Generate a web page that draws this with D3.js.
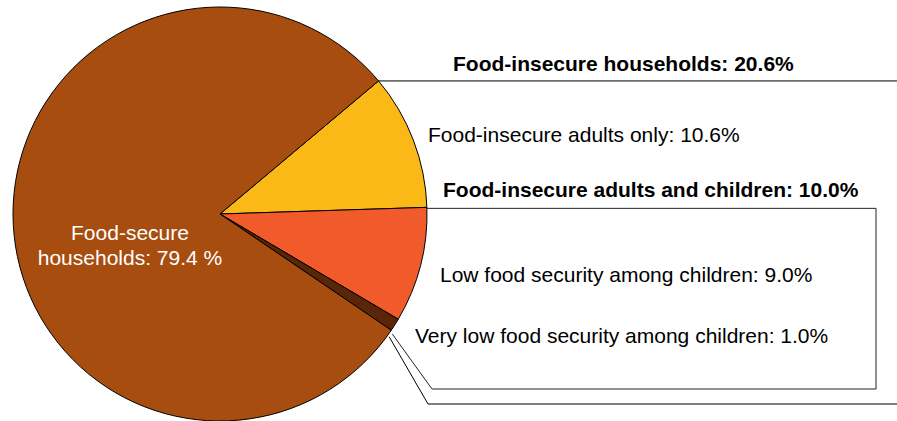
<!DOCTYPE html>
<html>
<head>
<meta charset="utf-8">
<script src="https://cdn.jsdelivr.net/npm/d3@7/dist/d3.min.js"></script>
<style>
  html, body { margin: 0; padding: 0; background: #fff; }
  svg { display: block; font-family: "Liberation Sans", Arial, Helvetica, sans-serif; }
</style>
</head>
<body>
<svg id="chart" width="897" height="421"></svg>
<script>
// Household food security shares (percent)
const categories = [
  "Food-insecure adults only",
  "Low food security among children",
  "Very low food security among children",
  "Food-secure households"
];
const values = [10.6, 9.0, 1.0, 79.4];
const sliceColors = ["#FBB917", "#F15A2B", "#5A2607", "#A84D10"];

const insecureTotal = 20.6;
const childrenTotal = 10.0;

const svg = d3.select("#chart");
const cx = 220, cy = 214, r = 207;
const W = 897;

const deg = Math.PI / 180;
const startA = 50 * deg;

const pie = d3.pie().sort(null).value(d => d.value)
  .startAngle(startA).endAngle(startA + 2 * Math.PI);
const data = categories.map((c, i) => ({ name: c, value: values[i], color: sliceColors[i] }));
const arcs = pie(data);
const arc = d3.arc().innerRadius(0).outerRadius(r);

const g = svg.append("g").attr("transform", `translate(${cx},${cy})`);
g.selectAll("path").data(arcs).join("path")
  .attr("d", arc)
  .attr("fill", d => d.data.color)
  .attr("stroke", "#000")
  .attr("stroke-width", 1)
  .attr("stroke-linejoin", "round");

// point on the circle at a given angle (clockwise from 12 o'clock)
const pt = (a, rad) => [cx + rad * Math.sin(a), cy - rad * Math.cos(a)];

const lineStyle = sel => sel.attr("fill", "none").attr("stroke", "#000").attr("stroke-width", 1);

// Bracket for all food-insecure households
const pTop = pt(arcs[0].startAngle, r);
svg.append("path").call(lineStyle)
  .attr("d", d3.line()([[pTop[0], pTop[1]], [W, pTop[1]]]));

// Box for households with food-insecure adults and children
const pChildStart = pt(arcs[1].startAngle, r);
const pChildEnd = pt(arcs[2].endAngle + 0.7 * deg, r + 3);
const boxRight = 876, boxBottom = 389, boxLeftBottom = 432;
svg.append("path").call(lineStyle).attr("stroke", "#222")
  .attr("d", d3.line()([
    [pChildStart[0], pChildStart[1] + 1],
    [boxRight, pChildStart[1] + 1],
    [boxRight, boxBottom],
    [boxLeftBottom, boxBottom],
    pChildEnd
  ]));

// Outer bracket
const pOuter = pt(arcs[2].endAngle + 1.8 * deg, r + 2);
svg.append("path").call(lineStyle)
  .attr("d", d3.line()([pOuter, [428, 404], [W, 404]]));

// Labels
const fs = 21;
const txt = (x, y, s, opts = {}) => svg.append("text")
  .attr("x", x).attr("y", y)
  .attr("font-size", opts.size || fs)
  .attr("font-weight", opts.bold ? "bold" : "normal")
  .attr("text-anchor", opts.anchor || "start")
  .attr("fill", opts.fill || "#000")
  .text(s);

txt(453, 71, `Food-insecure households: ${insecureTotal.toFixed(1)}%`, { bold: true });
txt(428, 142, `${categories[0]}: ${values[0].toFixed(1)}%`);
txt(443, 197, `Food-insecure adults and children: ${childrenTotal.toFixed(1)}%`, { bold: true });
txt(440, 282, `${categories[1]}: ${values[1].toFixed(1)}%`);
txt(415, 343, `${categories[2]}: ${values[2].toFixed(1)}%`);

txt(130, 240, "Food-secure", { anchor: "middle", fill: "#fff" });
txt(130, 265, `households: ${values[3].toFixed(1)} %`, { anchor: "middle", fill: "#fff" });
</script>
</body>
</html>
